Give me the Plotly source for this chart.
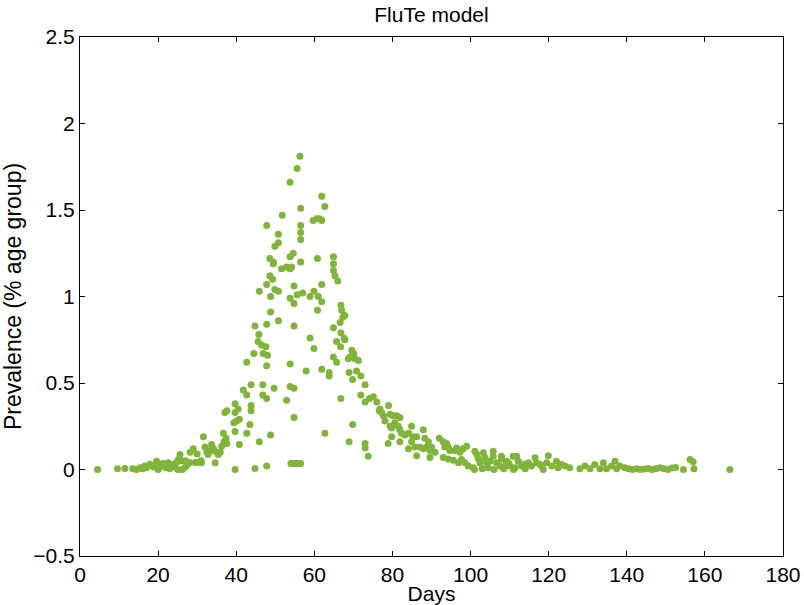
import plotly.graph_objects as go

# Simulated prevalence per day from the FluTe model runs

# Early phase, days 0-38
days_early = [4.5, 9.6, 11.5, 13.5, 14.5, 15.4, 16.0, 16.6, 17.0, 17.9,
              18.8, 19.0, 19.6, 20.0, 20.5, 21.0, 21.2, 21.8, 22.0, 22.6,
              23.0, 23.5, 24.0, 24.3, 24.8, 25.0, 25.2, 25.6, 26.0, 26.2,
              27.0, 27.0, 27.6, 28.0, 28.2, 29.0, 29.5, 30.0, 30.3, 31.0,
              31.1, 31.6, 32.0, 32.5, 32.8, 33.3, 33.7, 34.2, 34.6, 34.6,
              35.4, 35.9, 36.3, 36.7, 36.9, 37.1, 37.4, 37.6]
prev_early = [0.0, 0.005, 0.006, 0.005, 0.0, 0.01, 0.005, 0.02, 0.01, 0.03,
              0.015, 0.025, 0.048, 0.0, 0.016, 0.03, 0.035, 0.023, 0.01, 0.039,
              0.005, 0.023, 0.03, 0.016, 0.042, 0.0, 0.058, 0.087, 0.05, 0.0,
              0.05, 0.015, 0.03, 0.04, 0.10, 0.12, 0.04, 0.09, 0.04, 0.05,
              0.039, 0.19, 0.13, 0.10, 0.087, 0.11, 0.145, 0.12, 0.106, 0.039,
              0.087, 0.10, 0.135, 0.21, 0.16, 0.154, 0.18, 0.15]

# Epidemic peak, days 37-77
days_peak = [37.1, 37.6, 39.4, 39.7, 39.7, 39.7, 39.7, 40.1, 40.5, 40.8,
             40.8, 41.8, 42.7, 42.7, 42.7, 43.5, 43.8, 43.8, 43.8, 44.5,
             44.8, 44.8, 45.6, 45.8, 45.9, 45.9, 46.5, 46.8, 46.8, 46.9,
             47.6, 47.8, 47.8, 47.8, 47.8, 47.8, 47.8, 48.0, 48.6, 48.6,
             48.8, 48.8, 48.8, 49.3, 49.5, 49.5, 49.7, 49.9, 49.9, 50.8,
             50.8, 50.8, 50.8, 51.6, 51.8, 52.9, 52.9, 53.8, 53.8, 53.8,
             53.8, 53.8, 53.8, 54.0, 54.2, 54.6, 54.6, 54.8, 54.8, 54.8,
             54.8, 54.8, 55.2, 55.6, 55.6, 55.8, 56.3, 56.5, 56.5, 56.5,
             56.5, 56.5, 56.5, 57.0, 57.9, 58.9, 58.9, 59.7, 59.9, 59.9,
             60.6, 60.8, 60.8, 61.0, 61.3, 61.9, 61.9, 61.9, 61.9, 61.9,
             62.7, 62.7, 63.8, 63.8, 64.9, 64.9, 64.9, 64.9, 64.9, 65.3,
             65.7, 65.7, 66.0, 66.6, 66.7, 66.8, 66.8, 66.8, 67.0, 67.3,
             67.6, 67.8, 67.8, 68.7, 68.9, 68.9, 69.1, 69.6, 69.8, 69.8,
             70.1, 70.4, 70.8, 71.3, 71.9, 71.9, 73.0, 73.0, 73.0, 73.0,
             73.8, 74.1, 75.1, 76.0, 76.6]
prev_peak = [0.33, 0.34, 0.27, 0.38, 0.33, 0.22, 0.0, 0.28, 0.35, 0.29,
             0.145, 0.46, 0.43, 0.62, 0.21, 0.26, 0.49, 0.37, 0.34, 0.67,
             0.83, 0.006, 0.74, 0.78, 1.03, 0.16, 0.72, 0.49, 0.43, 0.67,
             0.71, 1.41, 1.07, 0.84, 0.60, 0.41, 0.02, 0.66, 1.22, 1.12,
             1.00, 0.91, 0.20, 1.10, 1.20, 1.19, 0.47, 1.29, 1.04, 1.36,
             1.31, 1.03, 0.86, 1.16, 1.47, 1.17, 0.40, 1.66, 1.23, 1.16,
             0.99, 0.61, 0.48, 0.035, 1.17, 1.25, 0.035, 1.06, 0.96, 0.83,
             0.47, 0.30, 0.035, 1.74, 1.01, 0.035, 1.81, 0.035, 1.51, 1.41,
             1.37, 1.33, 1.20, 1.02, 0.57, 1.00, 0.76, 1.44, 1.03, 0.70,
             1.45, 1.22, 0.92, 1.00, 1.45, 1.58, 1.44, 1.07, 0.97, 0.58,
             1.52, 0.21, 0.56, 0.54, 1.23, 1.19, 1.15, 0.82, 0.65, 1.12,
             0.74, 0.62, 1.09, 0.85, 0.71, 0.95, 0.79, 0.41, 0.92, 0.88,
             0.76, 0.89, 0.75, 0.64, 0.56, 0.16, 0.65, 0.69, 0.52, 0.26,
             0.67, 0.64, 0.57, 0.63, 0.54, 0.43, 0.49, 0.39, 0.15, 0.125,
             0.077, 0.41, 0.42, 0.39, 0.34]

# Decline, days 77-120
days_decay = [76.8, 77.2, 77.7, 78.1, 78.9, 79.0, 79.4, 79.4, 79.8, 79.8,
              80.2, 80.6, 81.1, 81.5, 81.9, 81.9, 81.9, 82.3, 83.2, 84.1,
              84.1, 84.9, 84.9, 85.3, 85.8, 86.2, 86.2, 87.0, 87.9, 87.9,
              88.3, 88.8, 89.2, 89.6, 89.6, 90.0, 90.9, 92.0, 93.0, 93.0,
              93.4, 93.9, 94.3, 94.3, 94.7, 95.6, 96.0, 96.4, 96.9, 97.3,
              97.7, 98.1, 98.6, 99.0, 99.4, 100.7, 101.0, 101.1, 101.6, 102.0,
              102.4, 103.0, 103.3, 103.7, 104.1, 104.5, 105.0, 105.8, 105.8, 106.0,
              106.7, 107.5, 107.9, 108.0, 108.5, 108.8, 109.2, 109.7, 110.1, 110.9,
              111.0, 111.4, 111.8, 112.2, 113.1, 113.5, 114.0, 114.3, 114.8, 115.6,
              116.5, 116.9, 117.8, 118.2, 118.6, 119.5, 119.9]
prev_decay = [0.35, 0.33, 0.31, 0.28, 0.15, 0.37, 0.32, 0.25, 0.24, 0.19,
              0.31, 0.27, 0.31, 0.25, 0.30, 0.23, 0.16, 0.21, 0.20, 0.21,
              0.12, 0.25, 0.16, 0.19, 0.13, 0.19, 0.08, 0.13, 0.23, 0.12,
              0.18, 0.13, 0.16, 0.11, 0.07, 0.13, 0.10, 0.18, 0.16, 0.07,
              0.13, 0.15, 0.13, 0.06, 0.11, 0.054, 0.11, 0.125, 0.039, 0.10,
              0.058, 0.12, 0.039, 0.135, 0.02, 0.01, 0.0, 0.105, 0.087, 0.062,
              0.039, 0.005, 0.097, 0.068, 0.039, 0.01, 0.048, 0.105, 0.077, 0.0,
              0.039, 0.02, 0.077, 0.06, 0.005, 0.02, 0.048, 0.039, 0.02, 0.077,
              0.0, 0.01, 0.077, 0.048, 0.02, 0.029, 0.005, 0.029, 0.039, 0.02,
              0.068, 0.039, 0.029, 0.02, 0.0, 0.039, 0.08]

# Late tail, days 120-170
days_tail = [120.8, 122.0, 122.4, 123.3, 124.2, 125.4, 128.0, 129.3, 130.6, 131.8,
             133.1, 134.0, 134.8, 136.1, 137.0, 137.4, 138.2, 139.5, 140.5, 141.5,
             142.5, 143.5, 144.5, 145.5, 146.5, 147.5, 148.5, 149.5, 150.5, 151.5,
             152.5, 154.5, 156.2, 157.0, 157.2, 166.4]
prev_tail = [0.02, 0.048, 0.01, 0.029, 0.02, 0.01, 0.004, 0.02, 0.004, 0.029,
             0.004, 0.039, 0.004, 0.02, 0.048, 0.004, 0.02, 0.01, 0.005, 0.0,
             0.005, 0.0, 0.003, 0.006, 0.0, 0.005, 0.01, 0.005, 0.0, 0.008,
             0.012, 0.0, 0.058, 0.045, 0.004, 0.0]

x_ticks = [0, 20, 40, 60, 80, 100, 120, 140, 160, 180]
y_ticks = [-0.5, 0, 0.5, 1, 1.5, 2, 2.5]

days = days_early + days_peak + days_decay + days_tail
prevalence = prev_early + prev_peak + prev_decay + prev_tail

FONT = "Liberation Sans, Arial, Helvetica, sans-serif"

fig = go.Figure()
fig.add_trace(go.Scatter(
    x=days, y=prevalence, mode="markers",
    marker=dict(size=7, color="#80b43b", line=dict(width=0)),
    hoverinfo="x+y",
))

axis_common = dict(
    showgrid=False, zeroline=False, showline=True, linecolor="black",
    linewidth=1, mirror="ticks", ticks="inside", ticklen=5,
    tickcolor="black", tickwidth=1, automargin=False,
    tickfont=dict(family=FONT, size=21, color="black"),
)

fig.update_layout(
    width=804, height=605,
    margin=dict(l=80, r=21, t=37, b=49),
    paper_bgcolor="white", plot_bgcolor="white",
    showlegend=False,
    title=dict(text="FluTe model", x=0.5, xref="paper", xanchor="center",
               y=1 - 15 / 605, yref="container", yanchor="middle",
               automargin=False,
               font=dict(family=FONT, size=21, color="black")),
    xaxis=dict(range=[0, 180], tickvals=x_ticks,
               title=dict(text="Days", standoff=0,
                          font=dict(family=FONT, size=21, color="black")),
               **axis_common),
    yaxis=dict(range=[-0.5, 2.5], tickvals=y_ticks,
               title=dict(text="Prevalence (% age group)", standoff=8,
                          font=dict(family=FONT, size=23, color="black")),
               **axis_common),
)

fig.write_html("out.html")
